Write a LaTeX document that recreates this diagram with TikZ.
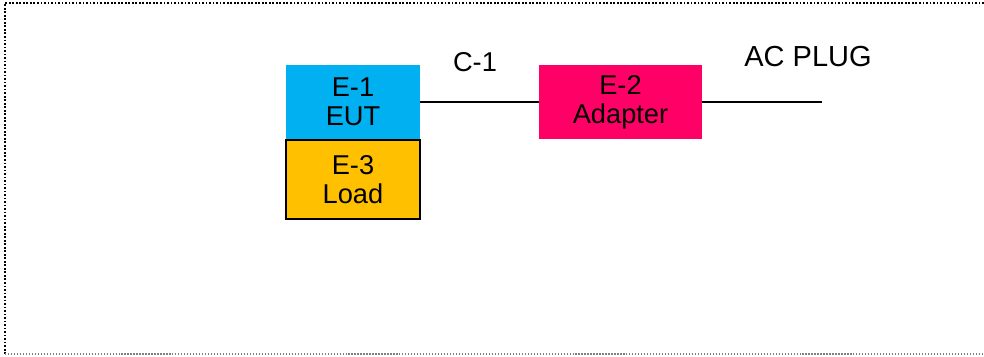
\documentclass[tikz,border=0pt]{standalone}
\usepackage{fontspec}
\setmainfont{Liberation Sans}
\usetikzlibrary{positioning}
\definecolor{eutblue}{RGB}{0,176,240}
\definecolor{adapterpink}{RGB}{255,0,102}
\definecolor{loadorange}{RGB}{255,192,0}

\begin{document}
\begin{tikzpicture}[x=0.02cm, y=-0.02cm, font=\fontsize{15.5}{16.5}\selectfont,
	unit/.style={align=center, inner sep=0pt, minimum width=2.68cm, minimum height=1.48cm},
	frame/.style={densely dotted, line width=1pt}]
	\useasboundingbox (0,0) rectangle (984,356);
	\draw[frame] (984,3) -- (5,3) -- (5,354);
	\draw[frame, gray, line width=0.7pt] (5,354) -- (984,354);

	\node[unit, fill=eutblue] (eut) at (353,102) {E-1\\EUT};
	\node[unit, fill=loadorange, draw, thick, minimum height=1.58cm, below=0pt of eut] (load) {E-3\\Load};
	\node[unit, fill=adapterpink, minimum width=3.26cm] (adapter) at (620.5,102) {E-2\\Adapter};
	\coordinate (plug) at (822,102);

	\node (cable) at (475,62) {C-1};
	\node[font=\fontsize{16.5}{18}\selectfont] (aclabel) at (808,57) {AC PLUG};

	\draw[thick] (eut) -- (adapter);
	\draw[thick] (adapter) -- (plug);
\end{tikzpicture}
\end{document}
